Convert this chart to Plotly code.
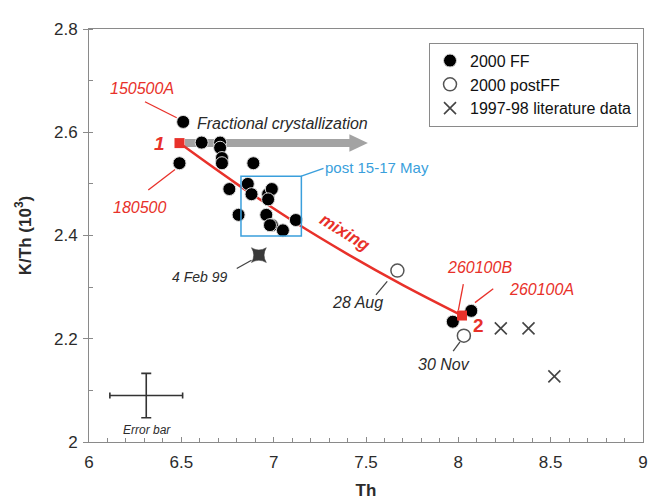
import plotly.graph_objects as go

# ---------------- data ----------------
ff_th = [6.51, 6.49, 6.61, 6.71, 6.71, 6.72, 6.72, 6.89, 6.76, 6.86, 6.88, 6.97, 6.99,
         6.97, 6.81, 6.96, 6.99, 6.98, 7.05, 7.12, 7.97, 8.07]
ff_kth = [2.62, 2.54, 2.58, 2.58, 2.57, 2.55, 2.54, 2.54, 2.49, 2.50, 2.48, 2.48, 2.49,
          2.47, 2.44, 2.44, 2.42, 2.42, 2.41, 2.43, 2.233, 2.254]

post_th = [7.67, 8.03]
post_kth = [2.332, 2.206]

lit_th = [8.23, 8.38, 8.52]
lit_kth = [2.22, 2.22, 2.127]

feb99_th = [6.92]
feb99_kth = [2.362]

end_th = [6.49, 8.02]
end_kth = [2.579, 2.245]

mix_th = [6.49, 6.80, 7.10, 7.40, 7.70, 8.02]
mix_kth = [2.579, 2.500, 2.429, 2.364, 2.304, 2.245]

err_th = [6.31]
err_kth = [2.09]
err_dx = [0.197]
err_dy = [0.043]

x_ticks = [6, 6.5, 7, 7.5, 8, 8.5, 9]
x_labels = ["6", "6.5", "7", "7.5", "8", "8.5", "9"]
y_ticks = [2, 2.2, 2.4, 2.6, 2.8]
y_labels = ["2", "2.2", "2.4", "2.6", "2.8"]

# ---------------- styles ----------------
RED = "#e8312a"
BLUE = "#3a9fdc"
DARK = "#2b2b2b"
GRAY_AX = "#8a8a8a"
FONT = "Liberation Sans, Arial, sans-serif"

fig = go.Figure()

# mixing curve
fig.add_trace(go.Scatter(x=mix_th, y=mix_kth, mode="lines", line=dict(color=RED, width=2.5, shape="spline"),
                         showlegend=False, hoverinfo="skip"))

fig.add_trace(go.Scatter(x=ff_th, y=ff_kth, mode="markers", name="2000 FF",
                         marker=dict(symbol="circle", size=13, color="black", line=dict(color="#dddddd", width=1))))
fig.add_trace(go.Scatter(x=post_th, y=post_kth, mode="markers", name="2000 postFF",
                         marker=dict(symbol="circle", size=13, color="white", line=dict(color="#555555", width=1.5))))
fig.add_trace(go.Scatter(x=lit_th, y=lit_kth, mode="markers", name="1997-98 literature data",
                         marker=dict(symbol="x-thin", size=12, color="#555555", line=dict(color="#444444", width=1.6))))
fig.add_trace(go.Scatter(x=feb99_th, y=feb99_kth, mode="markers", showlegend=False,
                         marker=dict(symbol="star-diamond", angle=45, size=15, color="#3a3a3a",
                                     line=dict(color="#3a3a3a", width=0.5))))
fig.add_trace(go.Scatter(x=end_th, y=end_kth, mode="markers", showlegend=False,
                         marker=dict(symbol="square", size=10, color=RED, line=dict(width=0))))
# error bar sample
fig.add_trace(go.Scatter(x=err_th, y=err_kth, mode="markers", showlegend=False,
                         marker=dict(size=1, color=DARK, opacity=0),
                         error_x=dict(type="data", array=err_dx, color="#333333", thickness=1.6, width=3),
                         error_y=dict(type="data", array=err_dy, color="#333333", thickness=1.6, width=5)))

shapes = []
# fractional crystallization arrow (below traces)
shapes.append(dict(type="line", xref="x", yref="y", x0=6.52, y0=2.579, x1=7.42, y1=2.579,
                   line=dict(color="#a3a3a3", width=8), layer="below"))
shapes.append(dict(type="path", xref="x", yref="y", path="M 7.41 2.562 L 7.51 2.579 L 7.41 2.596 Z",
                   fillcolor="#a3a3a3", line=dict(width=0), layer="below"))
# post 15-17 May box
shapes.append(dict(type="rect", xref="x", yref="y", x0=6.823, x1=7.15, y0=2.399, y1=2.515,
                   line=dict(color=BLUE, width=1.5)))
shapes.append(dict(type="line", xref="x", yref="y", x0=7.15, y0=2.515, x1=7.27, y1=2.53,
                   line=dict(color=BLUE, width=1.5)))
# leader lines
def lead(x0, y0, x1, y1, color):
    shapes.append(dict(type="line", xref="x", yref="y", x0=x0, y0=y0, x1=x1, y1=y1,
                       line=dict(color=color, width=1.3)))

lead(6.303, 2.659, 6.475, 2.628, RED)
lead(6.321, 2.488, 6.466, 2.528, RED)
lead(8.027, 2.306, 8.0, 2.255, RED)
lead(8.189, 2.297, 8.09, 2.27, RED)
lead(7.615, 2.311, 7.554, 2.285, "#444444")
lead(8.009, 2.194, 7.972, 2.176, "#444444")
lead(6.88, 2.352, 6.80, 2.336, "#444444")

annotations = []
def label(x, y, text, color, size, italic=True, bold=False, angle=0):
    t = text
    if bold:
        t = "<b>" + t + "</b>"
    if italic:
        t = "<i>" + t + "</i>"
    annotations.append(dict(x=x, y=y, xref="x", yref="y", text=t, showarrow=False, textangle=angle,
                            font=dict(family=FONT, size=size, color=color)))

label(6.287, 2.684, "150500A", RED, 16)
label(6.276, 2.455, "180500", RED, 16)
label(6.384, 2.579, "1", RED, 19, bold=True)
label(8.11, 2.225, "2", RED, 19, bold=True, italic=False)
label(8.117, 2.338, "260100B", RED, 16)
label(8.453, 2.296, "260100A", RED, 16)
label(7.386, 2.405, "mixing", RED, 17, bold=True, angle=32)
label(7.456, 2.271, "28 Aug", DARK, 16)
label(7.922, 2.151, "30 Nov", DARK, 16)
label(6.601, 2.319, "4 Feb 99", DARK, 14)
label(7.05, 2.617, "Fractional crystallization", "#2a2a2a", 16)
label(7.56, 2.531, "post 15-17 May", BLUE, 15, italic=False)
label(6.312, 2.023, "Error bar", DARK, 12)

fig.update_layout(
    width=660, height=502,
    margin=dict(l=81, r=25, t=15, b=68),
    paper_bgcolor="white", plot_bgcolor="white",
    font=dict(family=FONT, color=DARK, size=17),
    shapes=shapes, annotations=annotations,
    legend=dict(x=0.991, y=0.967, xanchor="right", yanchor="top", bordercolor="#8a8a8a", borderwidth=1,
                bgcolor="white", font=dict(family=FONT, size=16, color="#111111"),
                tracegroupgap=0, itemwidth=30),
    showlegend=True,
)
fig.update_xaxes(range=[6, 9], tickvals=x_ticks, ticktext=x_labels, showgrid=False, zeroline=False,
                 showline=True, linecolor=GRAY_AX, linewidth=1, mirror=True,
                 ticks="inside", ticklen=5, tickcolor=GRAY_AX, ticklabelstandoff=5,
                 minor=dict(dtick=0.1, ticks="inside", ticklen=4, tickcolor=GRAY_AX),
                 tickfont=dict(size=17, color=DARK),
                 title=dict(text="<b>Th</b>", font=dict(size=17, color=DARK), standoff=12))
fig.update_yaxes(range=[2, 2.8], tickvals=y_ticks, ticktext=y_labels, showgrid=False, zeroline=False,
                 showline=True, linecolor=GRAY_AX, linewidth=1, mirror=True,
                 ticks="outside", ticklen=5, tickcolor=GRAY_AX, ticklabelstandoff=2,
                 minor=dict(dtick=0.1, ticks="inside", ticklen=4, tickcolor=GRAY_AX),
                 tickfont=dict(size=17, color=DARK),
                 title=dict(text="<b>K/Th (10<sup>3</sup>)</b>", font=dict(size=17, color=DARK), standoff=18))

fig.write_html("out.html")
